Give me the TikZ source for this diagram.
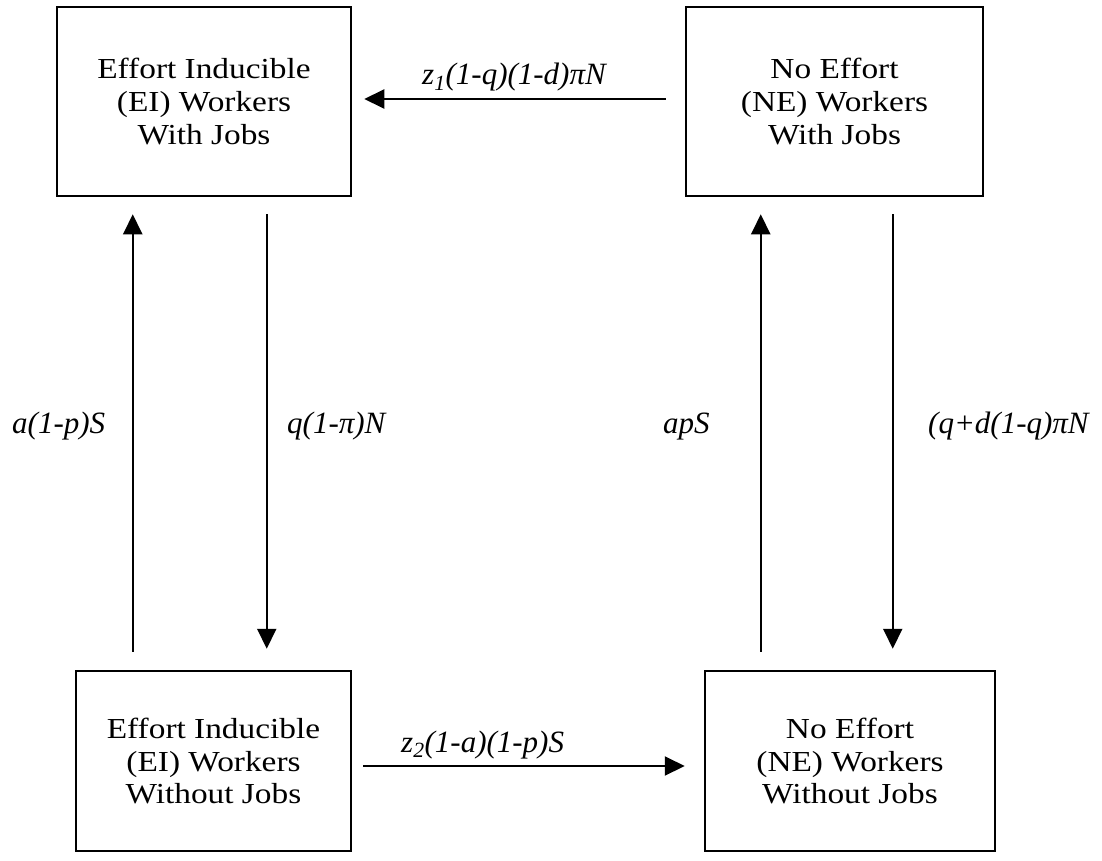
\documentclass[tikz,border=0pt]{standalone}
\usepackage{fontspec}
\setmainfont{Liberation Serif}
\newfontfamily\boxfont[FakeStretch=1.15]{Liberation Serif}
\usetikzlibrary{arrows.meta,calc}
\tikzset{
  statebox/.style={draw, line width=2.5pt, inner sep=0pt, align=center,
    font=\boxfont\fontsize{29}{33}\selectfont},
  arr/.style={line width=2pt, -{Triangle[length=20pt,width=19pt]}},
  rate/.style={anchor=base west, inner sep=0pt,
    font=\itshape\fontsize{31}{36}\selectfont}
}
\begin{document}
\begin{tikzpicture}[x=1pt,y=-1pt]
\useasboundingbox (0,0) rectangle (1102,861);
\node[statebox, minimum width=294pt, minimum height=189pt] (EIW) at (204,101.5)
  {Effort Inducible\\(EI) Workers\\With Jobs};
\node[statebox, minimum width=297pt, minimum height=189pt] (NEW) at (834.5,101.5)
  {No Effort\\(NE) Workers\\With Jobs};
\node[statebox, minimum width=275pt, minimum height=180pt] (EIU) at (213.5,761)
  {Effort Inducible\\(EI) Workers\\Without Jobs};
\node[statebox, minimum width=290pt, minimum height=180pt] (NEU) at (850,761)
  {No Effort\\(NE) Workers\\Without Jobs};
% connectors
\draw[arr] ($(NEW.west)+(-19,-2.5)$) -- ($(EIW.east)+(12,-2.5)$);
\draw[arr] ($(EIU.east)+(11,5)$) -- ($(NEU.west)+(-19,5)$);
\draw[arr] ($(EIU.north west)+(58,-18)$) -- ($(EIW.south west)+(77,17)$);
\draw[arr] ($(EIW.south west)+(211,17)$) -- ($(EIU.north west)+(192,-21)$);
\draw[arr] ($(NEU.north west)+(57,-18)$) -- ($(NEW.south west)+(76,17)$);
\draw[arr] ($(NEW.south west)+(208,17)$) -- ($(NEU.north west)+(189,-21)$);
% labels
\node[rate] (l1) at (422,85) {z\textsubscript{1}(1-q)(1-d)πN};
\node[rate] (l2) at (401,752) {z\textsubscript{2}(1-a)(1-p)S};
\node[rate] (l3) at (12,433) {a(1-p)S};
\node[rate] (l4) at (287,433) {q(1-π)N};
\node[rate] (l5) at (663,433) {apS};
\node[rate] (l6) at (928,433) {(q+d(1-q)πN};
\end{tikzpicture}
\end{document}
